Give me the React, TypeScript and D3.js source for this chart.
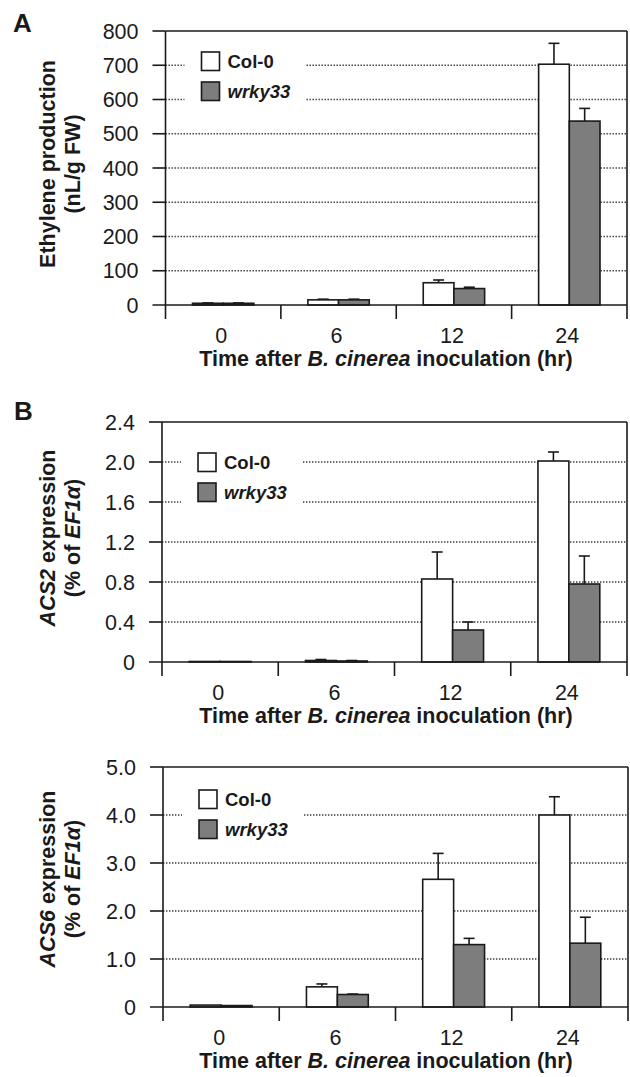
import React from "react";
import * as d3 from "d3";

const categories = ["0", "6", "12", "24"];

const ethyleneCol0 = [5, 15, 65, 703];
const ethyleneCol0Err = [1, 2, 8, 61];
const ethyleneWrky33 = [5, 15, 48, 537];
const ethyleneWrky33Err = [1, 2, 4, 37];
const ethyleneTicks = [0, 100, 200, 300, 400, 500, 600, 700, 800];

const acs2Col0 = [0.005, 0.015, 0.83, 2.01];
const acs2Col0Err = [0, 0.01, 0.27, 0.09];
const acs2Wrky33 = [0.005, 0.01, 0.32, 0.78];
const acs2Wrky33Err = [0, 0.005, 0.08, 0.28];
const acs2Ticks = [0, 0.4, 0.8, 1.2, 1.6, 2.0, 2.4];

const acs6Col0 = [0.04, 0.42, 2.66, 4.0];
const acs6Col0Err = [0, 0.06, 0.54, 0.38];
const acs6Wrky33 = [0.03, 0.26, 1.3, 1.33];
const acs6Wrky33Err = [0, 0.01, 0.13, 0.54];
const acs6Ticks = [0, 1, 2, 3, 4, 5];

const seriesNames = ["Col-0", "wrky33"];
const xTitleParts = ["Time after ", "B. cinerea", " inoculation (hr)"];

const FONT = "'Liberation Sans', Arial, Helvetica, sans-serif";
const GRAY = "#7d7d7d";
const INK = "#1a1a1a";

type PanelProps = {
  left: number;
  right: number;
  top: number;
  zero: number;
  ticks: number[];
  fmt: (v: number) => string;
  col: number[];
  colErr: number[];
  wrky: number[];
  wrkyErr: number[];
  legendTop: number;
  yTitleCenter: number;
  yTitle1: React.ReactNode;
  yTitle2: React.ReactNode;
};

function Panel(p: PanelProps) {
  const max = p.ticks[p.ticks.length - 1];
  const x = d3.scaleBand<string>().domain(categories).range([p.left, p.right]).padding(0);
  const y = d3.scaleLinear().domain([0, max]).range([p.zero, p.top]);
  const bw = x.bandwidth() * 0.266;
  const tickLen = 14;
  const legendX = p.left + 36;
  const gapX0 = p.left + 19;
  const gapX1 = p.left + 140;

  const series = [
    { vals: p.col, errs: p.colErr, fill: "#ffffff", off: -bw },
    { vals: p.wrky, errs: p.wrkyErr, fill: GRAY, off: 0 },
  ];

  return (
    <g>
      {/* gridlines */}
      {p.ticks.slice(1, -1).map((t) => (
        <line
          key={"g" + t}
          x1={p.left}
          x2={p.right}
          y1={y(t)}
          y2={y(t)}
          stroke="#3a3a3a"
          strokeWidth={1.3}
          strokeDasharray="1.4,1.6"
        />
      ))}
      {/* legend background mask */}
      <rect x={gapX0} y={p.legendTop - 8} width={gapX1 - gapX0} height={30 + 19 + 16} fill="#fff" />
      {/* bars */}
      {series.map((s, si) =>
        categories.map((c, i) => {
          const cx = (x(c) as number) + x.bandwidth() / 2;
          const bx = cx + s.off;
          const yTop = y(s.vals[i]);
          const yErr = y(s.vals[i] + s.errs[i]);
          return (
            <g key={si + "-" + c}>
              {s.errs[i] > 0 && (
                <g stroke={INK} strokeWidth={1.6}>
                  <line x1={bx + bw / 2} x2={bx + bw / 2} y1={yTop} y2={yErr} />
                  <line x1={bx + bw / 2 - 5.5} x2={bx + bw / 2 + 5.5} y1={yErr} y2={yErr} />
                </g>
              )}
              <rect
                x={bx}
                y={yTop}
                width={bw}
                height={p.zero - yTop}
                fill={s.fill}
                stroke={INK}
                strokeWidth={1.6}
              />
            </g>
          );
        })
      )}
      {/* frame & axes */}
      <g stroke={INK} strokeWidth={1.6} fill="none">
        <line x1={p.left} x2={p.right} y1={p.top} y2={p.top} />
        <line x1={p.left} x2={p.left} y1={p.top} y2={p.zero + tickLen} />
        <line x1={p.right} x2={p.right} y1={p.top} y2={p.zero + tickLen} />
        <line x1={p.left - 13} x2={p.right} y1={p.zero} y2={p.zero} />
        {p.ticks.slice(1).map((t) => (
          <line key={"yt" + t} x1={p.left - 13} x2={p.left} y1={y(t)} y2={y(t)} />
        ))}
        {categories.slice(1).map((c) => (
          <line key={"xt" + c} x1={x(c) as number} x2={x(c) as number} y1={p.zero} y2={p.zero + tickLen} />
        ))}
      </g>
      {/* y tick labels */}
      {p.ticks.map((t) => (
        <text
          key={"yl" + t}
          x={p.left - 27}
          y={y(t)}
          dy="0.36em"
          textAnchor="end"
          fontSize={21.5}
          fontFamily={FONT}
          fill={INK}
        >
          {p.fmt(t)}
        </text>
      ))}
      {/* x tick labels */}
      {categories.map((c) => (
        <text
          key={"xl" + c}
          x={(x(c) as number) + x.bandwidth() / 2 - 2}
          y={p.zero + 30}
          dy="0.36em"
          textAnchor="middle"
          fontSize={21.5}
          fontFamily={FONT}
          fill={INK}
        >
          {c}
        </text>
      ))}
      {/* x title */}
      <text x={386} y={p.zero + 61} textAnchor="middle" fontSize={21.5} fontWeight="bold" fontFamily={FONT} fill={INK}>
        {xTitleParts[0]}
        <tspan fontStyle="italic">{xTitleParts[1]}</tspan>
        {xTitleParts[2]}
      </text>
      {/* y title */}
      <text
        transform={`translate(55,${p.yTitleCenter}) rotate(-90)`}
        textAnchor="middle"
        fontSize={21.5}
        fontWeight="bold"
        fontFamily={FONT}
        fill={INK}
      >
        {p.yTitle1}
      </text>
      <text
        transform={`translate(80,${p.yTitleCenter}) rotate(-90)`}
        textAnchor="middle"
        fontSize={21.5}
        fontWeight="bold"
        fontFamily={FONT}
        fill={INK}
      >
        {p.yTitle2}
      </text>
      {/* legend */}
      {seriesNames.map((n, i) => (
        <g key={n}>
          <rect
            x={legendX}
            y={p.legendTop + i * 30}
            width={18}
            height={18.5}
            fill={i === 0 ? "#fff" : GRAY}
            stroke={INK}
            strokeWidth={1.6}
          />
          <text
            x={legendX + 26}
            y={p.legendTop + i * 30 + 9.5}
            dy="0.36em"
            fontSize={18.5}
            fontWeight="bold"
            fontStyle={i === 1 ? "italic" : "normal"}
            fontFamily={FONT}
            fill={INK}
          >
            {n}
          </text>
        </g>
      ))}
    </g>
  );
}

export default function App() {
  const intFmt = (v: number) => String(v);
  const oneDec = (v: number) => (v === 0 ? "0" : v.toFixed(1));
  return (
    <svg
      width={630}
      height={1077}
      style={{ position: "absolute", left: 0, top: 0, background: "#fff" }}
    >
      <rect width={630} height={1077} fill="#fff" />
      <text x={13} y={32} fontSize={26} fontWeight="bold" fontFamily={FONT} fill={INK}>
        A
      </text>
      <text x={14} y={420} fontSize={26} fontWeight="bold" fontFamily={FONT} fill={INK}>
        B
      </text>
      <Panel
        left={165.5}
        right={627}
        top={31}
        zero={305}
        ticks={ethyleneTicks}
        fmt={intFmt}
        col={ethyleneCol0}
        colErr={ethyleneCol0Err}
        wrky={ethyleneWrky33}
        wrkyErr={ethyleneWrky33Err}
        legendTop={52}
        yTitleCenter={164}
        yTitle1={"Ethylene production"}
        yTitle2={"(nL/g FW)"}
      />
      <Panel
        left={162}
        right={627}
        top={422}
        zero={662}
        ticks={acs2Ticks}
        fmt={oneDec}
        col={acs2Col0}
        colErr={acs2Col0Err}
        wrky={acs2Wrky33}
        wrkyErr={acs2Wrky33Err}
        legendTop={453}
        yTitleCenter={538}
        yTitle1={
          <>
            <tspan fontStyle="italic">ACS2</tspan> expression
          </>
        }
        yTitle2={
          <>
            (% of <tspan fontStyle="italic">EF1α</tspan>)
          </>
        }
      />
      <Panel
        left={163}
        right={628}
        top={767}
        zero={1007}
        ticks={acs6Ticks}
        fmt={oneDec}
        col={acs6Col0}
        colErr={acs6Col0Err}
        wrky={acs6Wrky33}
        wrkyErr={acs6Wrky33Err}
        legendTop={790}
        yTitleCenter={879}
        yTitle1={
          <>
            <tspan fontStyle="italic">ACS6</tspan> expression
          </>
        }
        yTitle2={
          <>
            (% of <tspan fontStyle="italic">EF1α</tspan>)
          </>
        }
      />
    </svg>
  );
}
